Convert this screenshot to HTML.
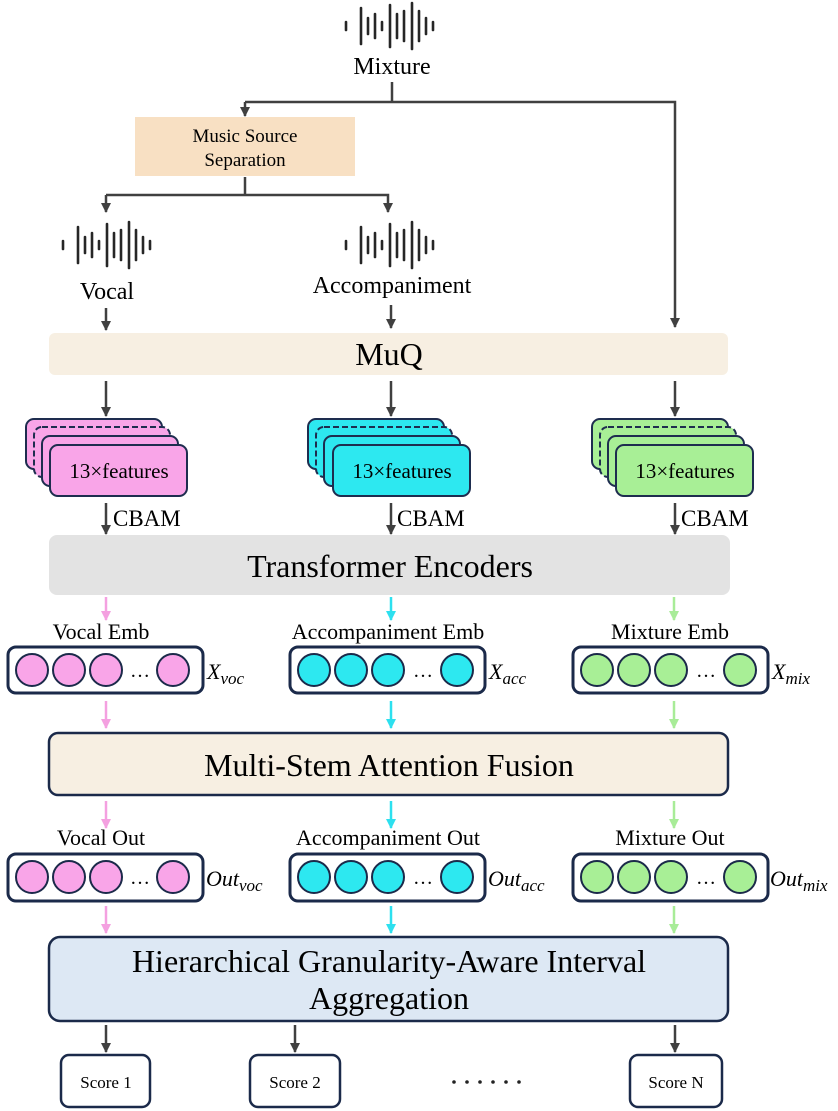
<!DOCTYPE html>
<html><head><meta charset="utf-8"><style>
body{margin:0;background:#fff}
svg{display:block}
text{font-family:"Liberation Serif","DejaVu Serif",serif;fill:#000}
</style></head><body>
<svg width="838" height="1111" viewBox="0 0 838 1111" xmlns="http://www.w3.org/2000/svg">
<defs>
<marker id="ad" viewBox="0 0 10 10" refX="9" refY="5" markerWidth="4" markerHeight="4" orient="auto"><path d="M0,0 L10,5 L0,10 z" fill="#404040"/></marker>
<marker id="ap" viewBox="0 0 10 10" refX="9" refY="5" markerWidth="4" markerHeight="4" orient="auto"><path d="M0,0 L10,5 L0,10 z" fill="#f4a0e0"/></marker>
<marker id="ac" viewBox="0 0 10 10" refX="9" refY="5" markerWidth="4" markerHeight="4" orient="auto"><path d="M0,0 L10,5 L0,10 z" fill="#2de0ef"/></marker>
<marker id="ag" viewBox="0 0 10 10" refX="9" refY="5" markerWidth="4" markerHeight="4" orient="auto"><path d="M0,0 L10,5 L0,10 z" fill="#a8ec98"/></marker>
<g id="wave" stroke="#262626" stroke-width="2.6" stroke-linecap="round">
<line x1="-44" y1="-4" x2="-44" y2="4"/><line x1="-29" y1="-18" x2="-29" y2="18"/><line x1="-22" y1="-8" x2="-22" y2="8"/><line x1="-15" y1="-12" x2="-15" y2="12"/><line x1="-8" y1="-4" x2="-8" y2="4"/><line x1="0" y1="-21" x2="0" y2="21"/><line x1="7" y1="-12" x2="7" y2="12"/><line x1="14" y1="-15" x2="14" y2="15"/><line x1="22" y1="-23" x2="22" y2="23"/><line x1="29" y1="-15" x2="29" y2="15"/><line x1="36" y1="-8" x2="36" y2="8"/><line x1="43" y1="-4" x2="43" y2="4"/>
</g>
</defs>

<use href="#wave" x="390" y="26"/>
<text x="392" y="74" font-size="24" text-anchor="middle">Mixture</text>
<g stroke="#404040" stroke-width="2.5" fill="none">
<path d="M392,82 V102"/>
<path d="M245,102 H675 V327" marker-end="url(#ad)"/>
<path d="M245,102 V116" marker-end="url(#ad)"/>
<path d="M245,177 V195"/>
<path d="M106,195 H388 V212" marker-end="url(#ad)"/>
<path d="M106,195 V212" marker-end="url(#ad)"/>
<path d="M106,308 V330" marker-end="url(#ad)"/>
<path d="M391,305 V328" marker-end="url(#ad)"/>
<path d="M106,381 V416" marker-end="url(#ad)"/>
<path d="M391,381 V416" marker-end="url(#ad)"/>
<path d="M675,381 V416" marker-end="url(#ad)"/>
<path d="M106,503 V534" marker-end="url(#ad)"/>
<path d="M391,503 V534" marker-end="url(#ad)"/>
<path d="M675,503 V534" marker-end="url(#ad)"/>
<path d="M106,1025 V1052" marker-end="url(#ad)"/>
<path d="M295,1025 V1052" marker-end="url(#ad)"/>
<path d="M675,1025 V1052" marker-end="url(#ad)"/>
</g>
<rect x="135" y="117" width="220" height="59" fill="#f8e0c3"/>
<text x="245" y="142" font-size="19" text-anchor="middle">Music Source</text>
<text x="245" y="166" font-size="19" text-anchor="middle">Separation</text>

<use href="#wave" x="107" y="245"/>
<text x="107" y="299" font-size="24" text-anchor="middle">Vocal</text>
<use href="#wave" x="390" y="245"/>
<text x="392" y="293" font-size="24" text-anchor="middle">Accompaniment</text>

<rect x="49" y="333" width="679" height="42" rx="6" fill="#f7efe2"/>
<text x="389" y="365" font-size="32" text-anchor="middle">MuQ</text>

<g stroke="#1e2d4f" stroke-width="2">
<g fill="#f9a5e8">
<rect x="26" y="419" width="136" height="50" rx="8"/>
<rect x="34" y="427" width="136" height="50" rx="8" stroke-dasharray="6,3"/>
<rect x="42" y="436" width="136" height="50" rx="8"/>
<rect x="50" y="445" width="137" height="51" rx="8"/>
</g>
<g fill="#2de8f0">
<rect x="308" y="419" width="136" height="50" rx="8"/>
<rect x="316" y="427" width="136" height="50" rx="8" stroke-dasharray="6,3"/>
<rect x="324" y="436" width="136" height="50" rx="8"/>
<rect x="333" y="445" width="137" height="51" rx="8"/>
</g>
<g fill="#a8ef96">
<rect x="592" y="419" width="136" height="50" rx="8"/>
<rect x="600" y="427" width="136" height="50" rx="8" stroke-dasharray="6,3"/>
<rect x="608" y="436" width="136" height="50" rx="8"/>
<rect x="616" y="445" width="137" height="51" rx="8"/>
</g>
</g>
<g font-size="21" text-anchor="middle">
<text x="119" y="478">13×features</text>
<text x="402" y="478">13×features</text>
<text x="685" y="478">13×features</text>
</g>
<g font-size="23">
<text x="113" y="526">CBAM</text>
<text x="397" y="526">CBAM</text>
<text x="681" y="526">CBAM</text>
</g>

<rect x="49" y="535" width="681" height="60" rx="8" fill="#e3e3e3"/>
<text x="390" y="577" font-size="32" text-anchor="middle">Transformer Encoders</text>

<g stroke-width="2.5" fill="none">
<path d="M106,597 V620" stroke="#f4a0e0" marker-end="url(#ap)"/>
<path d="M391,597 V620" stroke="#2de0ef" marker-end="url(#ac)"/>
<path d="M674,597 V620" stroke="#a8ec98" marker-end="url(#ag)"/>
<path d="M106,701 V728" stroke="#f4a0e0" marker-end="url(#ap)"/>
<path d="M391,701 V728" stroke="#2de0ef" marker-end="url(#ac)"/>
<path d="M674,701 V728" stroke="#a8ec98" marker-end="url(#ag)"/>
<path d="M106,801 V828" stroke="#f4a0e0" marker-end="url(#ap)"/>
<path d="M391,801 V828" stroke="#2de0ef" marker-end="url(#ac)"/>
<path d="M674,801 V828" stroke="#a8ec98" marker-end="url(#ag)"/>
<path d="M106,906 V933" stroke="#f4a0e0" marker-end="url(#ap)"/>
<path d="M391,906 V933" stroke="#2de0ef" marker-end="url(#ac)"/>
<path d="M674,906 V933" stroke="#a8ec98" marker-end="url(#ag)"/>
</g>

<g font-size="22" text-anchor="middle">
<text x="101" y="639">Vocal Emb</text>
<text x="388" y="639">Accompaniment Emb</text>
<text x="670" y="639">Mixture Emb</text>
<text x="101" y="845">Vocal Out</text>
<text x="388" y="845">Accompaniment Out</text>
<text x="670" y="845">Mixture Out</text>
</g>

<g stroke="#1b2a4a">
<g fill="#fff" stroke-width="3">
<rect x="8" y="647" width="195" height="46" rx="8"/>
<rect x="290" y="647" width="195" height="46" rx="8"/>
<rect x="573" y="647" width="195" height="46" rx="8"/>
<rect x="8" y="854" width="195" height="47" rx="8"/>
<rect x="290" y="854" width="195" height="47" rx="8"/>
<rect x="573" y="854" width="195" height="47" rx="8"/>
</g>
<g stroke-width="2">
<g fill="#f9a5e8"><circle cx="32" cy="670" r="16"/><circle cx="69" cy="670" r="16"/><circle cx="106" cy="670" r="16"/><circle cx="173" cy="670" r="16"/>
<circle cx="32" cy="877" r="16"/><circle cx="69" cy="877" r="16"/><circle cx="106" cy="877" r="16"/><circle cx="173" cy="877" r="16"/></g>
<g fill="#2de8f0"><circle cx="314" cy="670" r="16"/><circle cx="351" cy="670" r="16"/><circle cx="388" cy="670" r="16"/><circle cx="457" cy="670" r="16"/>
<circle cx="314" cy="877" r="16"/><circle cx="351" cy="877" r="16"/><circle cx="388" cy="877" r="16"/><circle cx="457" cy="877" r="16"/></g>
<g fill="#a8ef96"><circle cx="597" cy="670" r="16"/><circle cx="634" cy="670" r="16"/><circle cx="671" cy="670" r="16"/><circle cx="740" cy="670" r="16"/>
<circle cx="597" cy="877" r="16"/><circle cx="634" cy="877" r="16"/><circle cx="671" cy="877" r="16"/><circle cx="740" cy="877" r="16"/></g>
</g>
</g>
<g font-size="20" text-anchor="middle">
<text x="140" y="677">…</text><text x="423" y="677">…</text><text x="706" y="677">…</text>
<text x="140" y="884">…</text><text x="423" y="884">…</text><text x="706" y="884">…</text>
</g>
<g font-style="italic" font-size="22">
<text x="207" y="679">X<tspan font-size="17" dy="5">voc</tspan></text>
<text x="489" y="679">X<tspan font-size="17" dy="5">acc</tspan></text>
<text x="772" y="679">X<tspan font-size="17" dy="5">mix</tspan></text>
<text x="206" y="886">Out<tspan font-size="17" dy="5">voc</tspan></text>
<text x="488" y="886">Out<tspan font-size="17" dy="5">acc</tspan></text>
<text x="770" y="886">Out<tspan font-size="17" dy="5">mix</tspan></text>
</g>

<rect x="49" y="733" width="679" height="62" rx="9" fill="#f7efe2" stroke="#1b2a4a" stroke-width="2.5"/>
<text x="389" y="776" font-size="32" text-anchor="middle">Multi-Stem Attention Fusion</text>

<rect x="49" y="937" width="679" height="84" rx="11" fill="#dde8f4" stroke="#1b2a4a" stroke-width="2.5"/>
<text x="389" y="972" font-size="32" text-anchor="middle">Hierarchical Granularity-Aware Interval</text>
<text x="389" y="1009" font-size="32" text-anchor="middle">Aggregation</text>

<g fill="#fff" stroke="#1b2a4a" stroke-width="2.5">
<rect x="61" y="1055" width="89" height="52" rx="8"/>
<rect x="250" y="1055" width="90" height="52" rx="8"/>
<rect x="630" y="1055" width="92" height="52" rx="8"/>
</g>
<g font-size="17" text-anchor="middle">
<text x="106" y="1088">Score 1</text>
<text x="295" y="1088">Score 2</text>
<text x="676" y="1088">Score N</text>
</g>
<g fill="#222">
<circle cx="454" cy="1082" r="1.8"/><circle cx="467" cy="1082" r="1.8"/><circle cx="480" cy="1082" r="1.8"/><circle cx="493" cy="1082" r="1.8"/><circle cx="506" cy="1082" r="1.8"/><circle cx="519" cy="1082" r="1.8"/>
</g>
</svg>
</body></html>
